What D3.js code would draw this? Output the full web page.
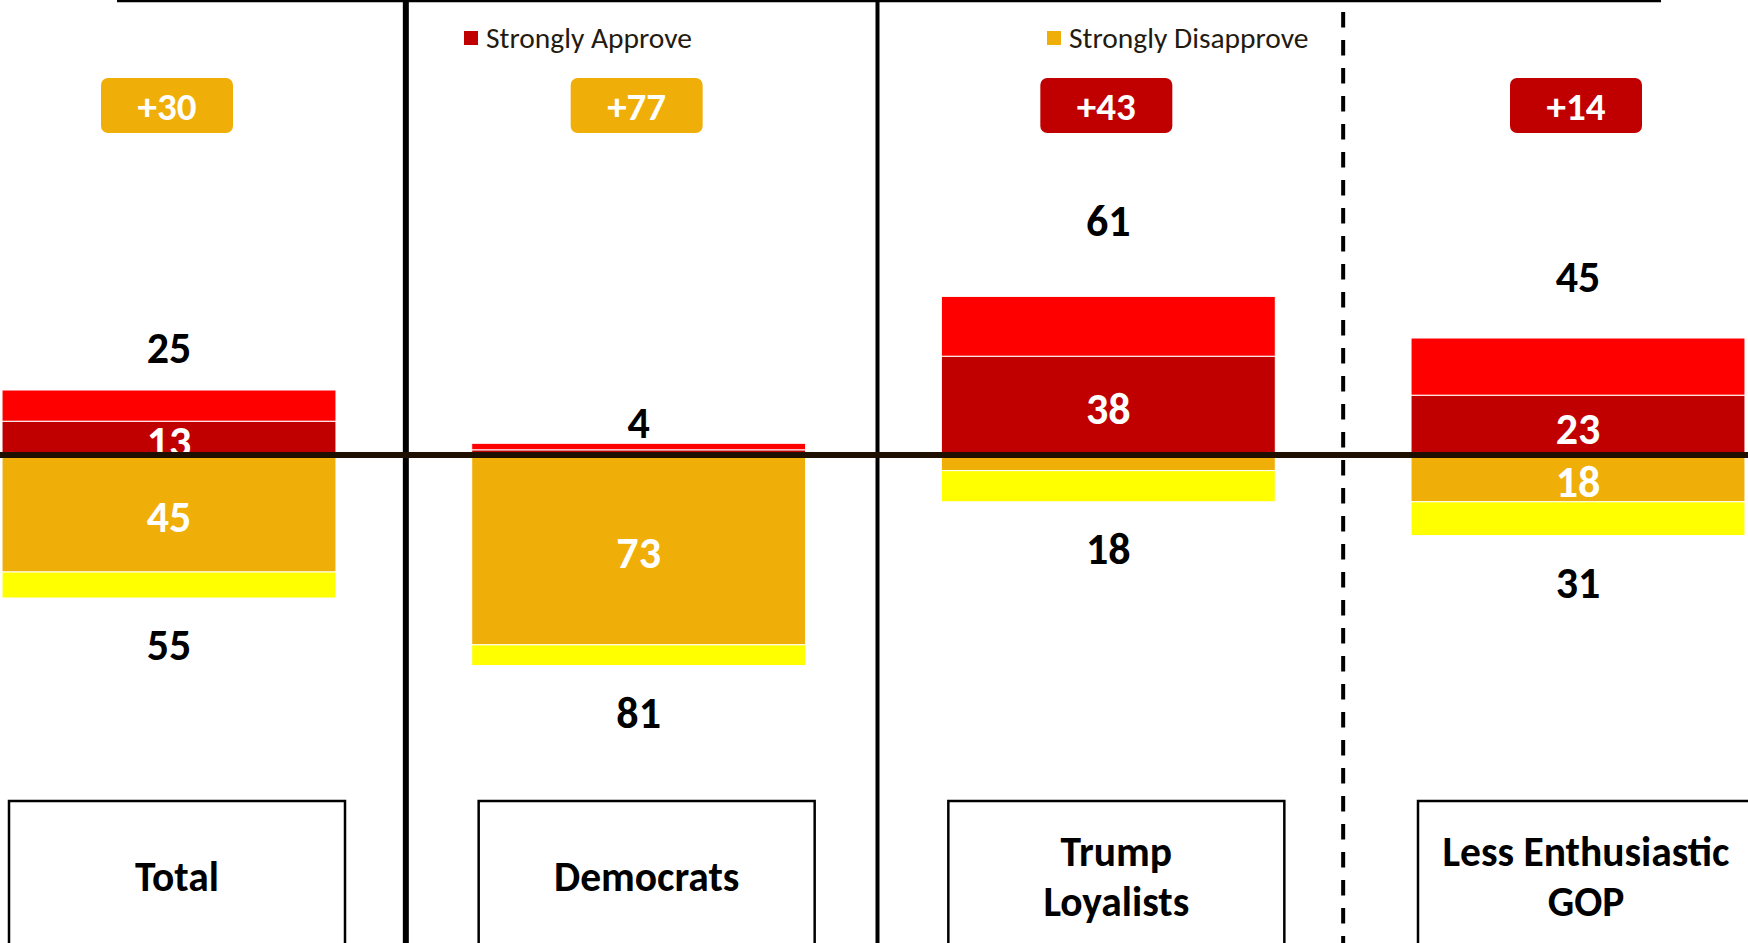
<!DOCTYPE html>
<html>
<head>
<meta charset="utf-8">
<script src="https://cdn.jsdelivr.net/npm/d3@7"></script>
<style>
  html, body { margin: 0; padding: 0; background: #ffffff; }
  svg { display: block; }
</style>
</head>
<body>
<div id="chart"></div>
<script>
// ---------------- data ----------------
const categories = ["Total", "Democrats", "Trump Loyalists", "Less Enthusiastic GOP"];
const categoryLines = [["Total"], ["Democrats"], ["Trump", "Loyalists"], ["Less Enthusiastic", "GOP"]];
const strongApprove = [13, 2, 38, 23];
const somewhatApprove = [12, 2.5, 23, 22];
const strongDisapprove = [45, 73, 6, 18];
const somewhatDisapprove = [10, 8, 12, 13];
const totalApprove = [25, 4, 61, 45];
const totalDisapprove = [55, 81, 18, 31];
const legendLabels = ["Strongly Approve", "Strongly Disapprove"];

// ---------------- setup ----------------
const W = 1748, H = 943;
const C = {
  strongApprove: "#C00000",
  somewhatApprove: "#FF0000",
  strongDisapprove: "#F0AE08",
  somewhatDisapprove: "#FFFF00",
  zero: "#1F0F00",
  text: "#000000"
};
const FONT = "Carlito, Calibri, Lato, 'Open Sans', sans-serif";

const svg = d3.select("#chart").append("svg")
  .attr("width", W).attr("height", H)
  .style("font-family", FONT);

const x = d3.scalePoint().domain(categories).range([169, 1578]);
const barW = x.step() * 0.711;
const y = d3.scaleLinear().domain([-100, 100]).range([715, 195]);

// ---------------- frame lines ----------------
svg.append("line").attr("x1", 117).attr("x2", 1661).attr("y1", 1).attr("y2", 1)
  .attr("stroke", "#000").attr("stroke-width", 2.5);

const sepX = [(x(categories[0]) + x(categories[1])) / 2, (x(categories[1]) + x(categories[2])) / 2];
svg.append("line").attr("x1", sepX[0] + 2).attr("x2", sepX[0] + 2).attr("y1", 0).attr("y2", H)
  .attr("stroke", "#000").attr("stroke-width", 6);
svg.append("line").attr("x1", sepX[1] + 4).attr("x2", sepX[1] + 4).attr("y1", 0).attr("y2", H)
  .attr("stroke", "#000").attr("stroke-width", 4);
const dashX = (x(categories[2]) + x(categories[3])) / 2;
svg.append("line").attr("x1", dashX).attr("x2", dashX).attr("y1", 12).attr("y2", H)
  .attr("stroke", "#000").attr("stroke-width", 4).attr("stroke-dasharray", "15.5 12.5");

// ---------------- bars ----------------
const rows = categories.map((c, i) => ({
  c, i,
  segs: [
    { key: "strongApprove", y0: 0, y1: strongApprove[i] },
    { key: "somewhatApprove", y0: strongApprove[i], y1: strongApprove[i] + somewhatApprove[i] },
    { key: "strongDisapprove", y0: 0, y1: -strongDisapprove[i] },
    { key: "somewhatDisapprove", y0: -strongDisapprove[i], y1: -strongDisapprove[i] - somewhatDisapprove[i] }
  ]
}));

const g = svg.selectAll("g.bar").data(rows).join("g").attr("class", "bar");
g.selectAll("rect").data(d => d.segs.map(s => ({ ...s, c: d.c })))
  .join("rect")
  .attr("x", d => x(d.c) - barW / 2)
  .attr("width", barW)
  .attr("y", d => Math.min(y(d.y0), y(d.y1)))
  .attr("height", d => Math.abs(y(d.y0) - y(d.y1)))
  .attr("fill", d => C[d.key])
  .attr("stroke", "#fff").attr("stroke-width", 1);

// inner labels (strong values)
const inner = [];
categories.forEach((c, i) => {
  if (strongApprove[i] >= 10) inner.push({ c, v: strongApprove[i], mid: strongApprove[i] / 2 });
  if (strongDisapprove[i] >= 10) inner.push({ c, v: strongDisapprove[i], mid: -strongDisapprove[i] / 2 });
});
svg.selectAll("text.inner").data(inner).join("text").attr("class", "inner")
  .attr("x", d => x(d.c))
  .attr("y", d => y(d.mid) + 3)
  .attr("dy", "0.35em")
  .attr("text-anchor", "middle")
  .attr("fill", "#fff")
  .attr("font-weight", "bold")
  .attr("font-size", 44)
  .text(d => d.v);

// zero line over bars
svg.append("line").attr("x1", 0).attr("x2", W).attr("y1", y(0)).attr("y2", y(0))
  .attr("stroke", C.zero).attr("stroke-width", 6);

// total labels
svg.selectAll("text.topTotal").data(categories).join("text").attr("class", "topTotal")
  .attr("x", d => x(d))
  .attr("y", (d, i) => y(totalApprove[i] * 1.366 + 7))
  .attr("dy", "0.35em")
  .attr("text-anchor", "middle")
  .attr("fill", C.text).attr("font-weight", "bold").attr("font-size", 44)
  .text((d, i) => totalApprove[i]);

svg.selectAll("text.botTotal").data(categories).join("text").attr("class", "botTotal")
  .attr("x", d => x(d))
  .attr("y", (d, i) => y(-(totalDisapprove[i] + 18)))
  .attr("dy", "0.35em")
  .attr("text-anchor", "middle")
  .attr("fill", C.text).attr("font-weight", "bold").attr("font-size", 44)
  .text((d, i) => totalDisapprove[i]);

// net badges
const badges = categories.map((c, i) => {
  const net = totalApprove[i] - totalDisapprove[i];
  return { c, net, text: "+" + Math.abs(net), color: net >= 0 ? C.strongApprove : C.strongDisapprove };
});
const bg = svg.selectAll("g.badge").data(badges).join("g").attr("class", "badge")
  .attr("transform", d => `translate(${x(d.c) - 2},106)`);
bg.append("rect").attr("x", -66).attr("y", -28).attr("width", 132).attr("height", 55)
  .attr("rx", 7).attr("fill", d => d.color);
bg.append("text").attr("text-anchor", "middle").attr("dy", "0.36em")
  .attr("fill", "#fff").attr("font-weight", "bold").attr("font-size", 39)
  .text(d => d.text);

// legend
const legend = [
  { label: legendLabels[0], color: C.strongApprove, x: 464 },
  { label: legendLabels[1], color: C.strongDisapprove, x: 1047 }
];
const lg = svg.selectAll("g.legend").data(legend).join("g").attr("class", "legend")
  .attr("transform", d => `translate(${d.x},31)`);
lg.append("rect").attr("width", 14).attr("height", 14).attr("fill", d => d.color);
lg.append("text").attr("x", 22).attr("y", 17).attr("fill", "#231a10")
  .attr("font-size", 29.5).text(d => d.label);

// category boxes
const boxW = 336;
const cg = svg.selectAll("g.cat").data(categories).join("g").attr("class", "cat")
  .attr("transform", d => `translate(${x(d) + 8},801)`);
cg.append("rect").attr("x", -boxW / 2).attr("y", 0).attr("width", boxW).attr("height", 150)
  .attr("fill", "#fff").attr("stroke", "#000").attr("stroke-width", 2.5);
cg.each(function (d, i) {
  const lines = categoryLines[i];
  const lh = 50;
  const t = d3.select(this).append("text").attr("text-anchor", "middle")
    .attr("font-weight", "bold").attr("font-size", 41.5).attr("fill", "#000");
  lines.forEach((ln, k) => {
    t.append("tspan").attr("x", 0)
      .attr("y", 75 + (k - (lines.length - 1) / 2) * lh)
      .attr("dy", "0.35em").text(ln);
  });
});
</script>
</body>
</html>
